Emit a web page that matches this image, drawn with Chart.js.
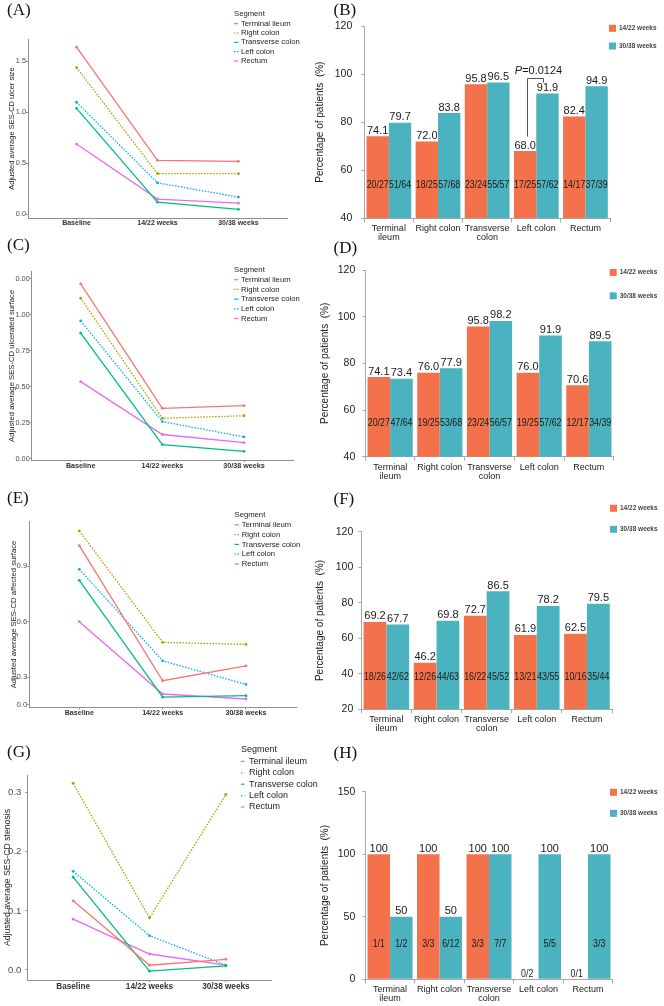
<!DOCTYPE html>
<html>
<head>
<meta charset="utf-8">
<script src="https://cdn.jsdelivr.net/npm/chart.js@4.4.1/dist/chart.umd.min.js"></script>
<style>
body { margin: 0; background: #fff; width: 664px; height: 1006px; position: relative; overflow: hidden; }
canvas { position: absolute; }
</style>
</head>
<body>
<canvas id="chartA"></canvas>
<canvas id="chartC"></canvas>
<canvas id="chartE"></canvas>
<canvas id="chartG"></canvas>
<canvas id="chartB"></canvas>
<canvas id="chartD"></canvas>
<canvas id="chartF"></canvas>
<canvas id="chartH"></canvas>
<script>
// ---- data ----
const timepoints = ['Baseline', '14/22 weeks', '30/38 weeks'];
const segments = ['Terminal ileum', 'Right colon', 'Transverse colon', 'Left colon', 'Rectum'];
const barTickLabels = [['Terminal', 'ileum'], 'Right colon', ['Transverse', 'colon'], 'Left colon', 'Rectum'];
const weekLabels = ['14/22 weeks', '30/38 weeks'];

// (A) ulcer size
const ulcerTI = [1.64, 0.53, 0.52];
const ulcerRC = [1.44, 0.40, 0.40];
const ulcerTC = [1.04, 0.12, 0.05];
const ulcerLC = [1.10, 0.31, 0.17];
const ulcerRE = [0.69, 0.15, 0.11];

// (C) ulcerated surface
const ulceratedTI = [1.215, 0.352, 0.37];
const ulceratedRC = [1.116, 0.283, 0.30];
const ulceratedTC = [0.873, 0.10, 0.053];
const ulceratedLC = [0.958, 0.26, 0.153];
const ulceratedRE = [0.537, 0.17, 0.113];

// (E) affected surface
const affectedTI = [1.012, 0.28, 0.361];
const affectedRC = [1.092, 0.488, 0.477];
const affectedTC = [0.824, 0.191, 0.199];
const affectedLC = [0.884, 0.388, 0.26];
const affectedRE = [0.60, 0.208, 0.181];

// (G) stenosis
const stenosisTI = [0.117, 0.008, 0.018];
const stenosisRC = [0.316, 0.088, 0.297];
const stenosisTC = [0.157, -0.002, 0.007];
const stenosisLC = [0.167, 0.058, 0.008];
const stenosisRE = [0.086, 0.027, 0.008];

// (B)
const ulcerWk14 = [74.1, 72.0, 95.8, 68.0, 82.4];
const ulcerWk30 = [79.7, 83.8, 96.5, 91.9, 94.9];
const ulcerN14 = ['20/27', '18/25', '23/24', '17/25', '14/17'];
const ulcerN30 = ['51/64', '57/68', '55/57', '57/62', '37/39'];
// (D)
const ulceratedWk14 = [74.1, 76.0, 95.8, 76.0, 70.6];
const ulceratedWk30 = [73.4, 77.9, 98.2, 91.9, 89.5];
const ulceratedN14 = ['20/27', '19/25', '23/24', '19/25', '12/17'];
const ulceratedN30 = ['47/64', '53/68', '56/57', '57/62', '34/39'];
// (F)
const affectedWk14 = [69.2, 46.2, 72.7, 61.9, 62.5];
const affectedWk30 = [67.7, 69.8, 86.5, 78.2, 79.5];
const affectedN14 = ['18/26', '12/26', '16/22', '13/21', '10/16'];
const affectedN30 = ['42/62', '44/63', '45/52', '43/55', '35/44'];
// (H)
const stenosisWk14 = [100, 100, 100, 0, 0];
const stenosisWk30 = [50, 50, 100, 100, 100];
const stenosisN14 = ['1/1', '3/3', '3/3', '0/2', '0/1'];
const stenosisN30 = ['1/2', '6/12', '7/7', '5/5', '3/3'];

// ---- styling ----
const FONT = '"Liberation Sans", Arial, sans-serif';
const segColors = ['#F8766D', '#A3A500', '#00BF7D', '#00B0F6', '#E76BF3'];
const segDotted = [false, true, false, true, false];
const barColors = ['#F4724B', '#4BB2C0'];

function place(id, box) {
    let c = document.getElementById(id);
    c.width = box.w;
    c.height = box.h;
    c.style.left = box.x + 'px';
    c.style.top = box.y + 'px';
    return c;
}

function padFor(box, area) {
    return { left: 0, top: area.t - box.y, right: box.x + box.w - area.r, bottom: 0 };
}

// bar value / count labels and the p-value bracket (canvas coordinates)
function drawBarLabels(chart, ctx, B) {
    let ys = chart.scales.y;
    chart.data.datasets.forEach((ds, i) => {
        let meta = chart.getDatasetMeta(i);
        meta.data.forEach((bar, j) => {
            let v = ds.data[j];
            ctx.fillStyle = '#1a1a1a';
            ctx.textAlign = 'center';
            if (v > 0) {
                ctx.font = '11px ' + FONT;
                ctx.textBaseline = 'bottom';
                ctx.fillText(v.toFixed(B.decimals), bar.x, bar.y);
            }
            let cy = v > 0 ? ys.getPixelForValue(B.countY) : ys.bottom - 5;
            ctx.save();
            ctx.translate(bar.x, cy);
            ctx.scale(0.84, 1);
            ctx.font = '10.5px ' + FONT;
            ctx.textBaseline = 'middle';
            ctx.fillText(ds.counts[j], 0, 0);
            ctx.restore();
        });
    });

    let P = B.pval;
    if (P) {
        let a = chart.getDatasetMeta(0).data[P.idx];
        let b = chart.getDatasetMeta(1).data[P.idx];
        let x1 = Math.round(a.x + 2) + 0.5, x2 = Math.round(b.x - 4) + 0.5;
        let top = Math.round(ys.getPixelForValue(P.top)) + 0.5;
        ctx.strokeStyle = '#555';
        ctx.lineWidth = 1;
        ctx.beginPath();
        ctx.moveTo(x1, ys.getPixelForValue(P.left));
        ctx.lineTo(x1, top);
        ctx.lineTo(x2, top);
        ctx.lineTo(x2, ys.getPixelForValue(P.right));
        ctx.stroke();
        ctx.fillStyle = '#1a1a1a';
        ctx.textAlign = 'left';
        ctx.textBaseline = 'middle';
        ctx.font = 'italic 11px ' + FONT;
        let pw = ctx.measureText('P').width;
        ctx.font = '11px ' + FONT;
        let tw = ctx.measureText(P.text).width;
        let tx = (x1 + x2) / 2 + 3 - (pw + tw) / 2;
        let ty = ys.getPixelForValue(P.textAt);
        ctx.font = 'italic 11px ' + FONT;
        ctx.fillText('P', tx, ty);
        ctx.font = '11px ' + FONT;
        ctx.fillText(P.text, tx + pw, ty);
    }
}

// draws panel letters, legends and bar labels
const decor = {
    id: 'decor',
    afterDraw(chart) {
        let o = chart.options.plugins.decor;
        let ctx = chart.ctx;
        ctx.save();
        if (o.bars) drawBarLabels(chart, ctx, o.bars);

        // the rest is placed in page coordinates
        ctx.translate(-o.box.x, -o.box.y);
        ctx.fillStyle = '#111';
        ctx.textAlign = 'left';
        ctx.textBaseline = 'alphabetic';
        ctx.font = '17px "Liberation Serif", "Times New Roman", serif';
        ctx.fillText(o.letter, o.letterX, o.letterY);

        if (o.seg) {
            let L = o.seg;
            ctx.font = L.size + 'px ' + FONT;
            ctx.fillStyle = '#222';
            ctx.textBaseline = 'middle';
            ctx.fillText('Segment', L.x, L.y);
            chart.data.datasets.forEach((ds, i) => {
                let y = L.y + L.step * (i + 1);
                ctx.strokeStyle = ds.borderColor;
                ctx.lineWidth = 1.2;
                ctx.setLineDash(ds.borderDash);
                ctx.beginPath();
                ctx.moveTo(L.x, y);
                ctx.lineTo(L.x + L.sw, y);
                ctx.stroke();
                ctx.setLineDash([]);
                ctx.fillStyle = '#222';
                ctx.fillText(ds.label, L.tx, y);
            });
        }

        if (o.bars) {
            let L = o.bars.legend;
            ctx.textAlign = 'left';
            ctx.textBaseline = 'middle';
            ctx.font = 'bold 6.5px ' + FONT;
            chart.data.datasets.forEach((ds, i) => {
                let y = L.y[i];
                ctx.fillStyle = ds.backgroundColor;
                ctx.fillRect(L.x, y - 3.5, 7, 7);
                ctx.fillStyle = '#444';
                ctx.fillText(ds.label, L.x + 10, y);
            });
        }
        ctx.restore();
    }
};

function makeLine(id, p) {
    let c = place(id, p.box);
    let axisColor = '#8f8f8f';
    return new Chart(c, {
        type: 'line',
        data: {
            datasets: p.series.map((vals, i) => ({
                label: segments[i],
                data: vals.map((v, j) => ({ x: j + 1, y: v })),
                borderColor: segColors[i],
                backgroundColor: segColors[i],
                borderWidth: 1.3,
                borderDash: segDotted[i] ? [1.5, 1.5] : [],
                pointRadius: 1.4,
                pointBorderWidth: 0,
                tension: 0
            }))
        },
        options: {
            responsive: false,
            animation: false,
            devicePixelRatio: 1,
            layout: { padding: padFor(p.box, p.area) },
            plugins: {
                legend: { display: false },
                tooltip: { enabled: false },
                decor: { box: p.box, letter: p.letter, letterX: p.letterX, letterY: p.letterY, seg: p.seg }
            },
            scales: {
                x: {
                    type: 'linear',
                    min: 0.4,
                    max: 3.6,
                    afterBuildTicks: s => { s.ticks = [1, 2, 3].map(v => ({ value: v })); },
                    afterFit: s => { s.height = p.box.y + p.box.h - p.area.b; },
                    ticks: {
                        callback: (v, i) => timepoints[i],
                        font: { size: p.xFont, weight: 'bold', family: FONT },
                        color: '#333',
                        padding: p.xPad,
                        maxRotation: 0,
                        autoSkip: false
                    },
                    grid: { display: true, drawOnChartArea: false, tickLength: 2, color: axisColor },
                    border: { color: axisColor, width: 1 }
                },
                y: {
                    type: 'linear',
                    min: p.yMin,
                    max: p.yMax,
                    afterBuildTicks: s => { s.ticks = p.yTicks.map(v => ({ value: v })); },
                    afterFit: s => { s.width = p.area.l - p.box.x; },
                    ticks: {
                        callback: (v, i) => p.yTickLabels[i],
                        font: { size: p.yFont, family: FONT },
                        color: '#4d4d4d',
                        padding: p.yPad,
                        autoSkip: false
                    },
                    grid: { display: true, drawOnChartArea: false, tickLength: 2, color: axisColor },
                    border: { color: axisColor, width: 1 },
                    title: {
                        display: true,
                        text: p.title,
                        color: '#222',
                        font: { size: p.titleFont, family: FONT },
                        padding: { top: p.titlePad, bottom: 0 }
                    }
                }
            }
        },
        plugins: [decor]
    });
}

function makeBar(id, p) {
    let c = place(id, p.box);
    let axisColor = '#a8a8a8';
    return new Chart(c, {
        type: 'bar',
        data: {
            labels: segments,
            datasets: [
                { label: weekLabels[0], data: p.wk14, counts: p.n14, backgroundColor: barColors[0] },
                { label: weekLabels[1], data: p.wk30, counts: p.n30, backgroundColor: barColors[1] }
            ]
        },
        options: {
            responsive: false,
            animation: false,
            devicePixelRatio: 1,
            layout: { padding: padFor(p.box, p.area) },
            datasets: { bar: { categoryPercentage: 0.91, barPercentage: 1.0, borderWidth: 0 } },
            plugins: {
                legend: { display: false },
                tooltip: { enabled: false },
                decor: {
                    box: p.box, letter: p.letter, letterX: p.letterX, letterY: p.letterY,
                    bars: { decimals: p.decimals, countY: p.countY, legend: p.legend, pval: p.pval }
                }
            },
            scales: {
                x: {
                    type: 'category',
                    afterFit: s => { s.height = p.box.y + p.box.h - p.area.b; },
                    grid: { display: true, offset: true, drawOnChartArea: false, tickLength: 4, color: axisColor },
                    border: { color: axisColor, width: 1 },
                    ticks: {
                        callback: (v, i) => barTickLabels[i],
                        font: { size: 9, family: FONT, lineHeight: 1.0 },
                        color: '#222',
                        padding: 2,
                        maxRotation: 0,
                        autoSkip: false
                    }
                },
                y: {
                    min: p.yMin,
                    max: p.yMax,
                    afterFit: s => { s.width = p.area.l - p.box.x; },
                    ticks: { stepSize: p.step, font: { size: 10.5, family: FONT }, color: '#222', padding: p.yPad },
                    grid: { display: true, drawOnChartArea: false, tickLength: 3, color: axisColor },
                    border: { color: axisColor, width: 1 },
                    title: {
                        display: true,
                        text: 'Percentage of patients  (%)',
                        color: '#222',
                        font: { size: 10, family: FONT },
                        padding: { top: p.titlePad, bottom: 0 }
                    }
                }
            }
        },
        plugins: [decor]
    });
}

// ---- line panels ----
makeLine('chartA', {
    box: { x: 0, y: 0, w: 312, h: 232 }, area: { l: 28, t: 39, r: 287, b: 218 },
    series: [ulcerTI, ulcerRC, ulcerTC, ulcerLC, ulcerRE],
    yMin: -0.035, yMax: 1.72, yTicks: [0, 0.5, 1.0, 1.5], yTickLabels: ['0.0', '0.5', '1.0', '1.5'],
    title: 'Adjusted average SES-CD ulcer size', titleFont: 7.5, titlePad: 7,
    xFont: 7, xPad: -1, yFont: 7.3, yPad: 0,
    letter: '(A)', letterX: 7, letterY: 15,
    seg: { x: 234, y: 14.3, step: 9.35, sw: 4.5, tx: 241, size: 7.7 }
});

makeLine('chartC', {
    box: { x: 0, y: 232, w: 312, h: 256 }, area: { l: 31.7, t: 271.7, r: 293, b: 460 },
    series: [ulceratedTI, ulceratedRC, ulceratedTC, ulceratedLC, ulceratedRE],
    yMin: -0.007, yMax: 1.30, yTicks: [0, 0.25, 0.5, 0.75, 1.0, 1.25],
    yTickLabels: ['0.00', '0.25', '0.50', '0.75', '1.00', '0.00'],
    title: 'Adjusted average SES-CD ulcerated surface', titleFont: 7.7, titlePad: 7,
    xFont: 7.2, xPad: 0, yFont: 7.3, yPad: 0,
    letter: '(C)', letterX: 7, letterY: 250,
    seg: { x: 234, y: 270, step: 9.7, sw: 4.5, tx: 241, size: 7.7 }
});

makeLine('chartE', {
    box: { x: 0, y: 488, w: 312, h: 252 }, area: { l: 29.3, t: 521.7, r: 296, b: 707.3 },
    series: [affectedTI, affectedRC, affectedTC, affectedLC, affectedRE],
    yMin: 0.136, yMax: 1.142, yTicks: [0.15, 0.3, 0.6, 0.9], yTickLabels: ['0.0', '0.3', '0.6', '0.9'],
    title: 'Adjusted average SES-CD affected surface', titleFont: 7.7, titlePad: 9,
    xFont: 7.1, xPad: -1, yFont: 7.8, yPad: 0,
    letter: '(E)', letterX: 7, letterY: 503,
    seg: { x: 234.5, y: 515, step: 9.8, sw: 4.5, tx: 241.7, size: 7.7 }
});

makeLine('chartG', {
    box: { x: 0, y: 740, w: 332, h: 266 }, area: { l: 27.3, t: 775, r: 271.7, b: 980 },
    series: [stenosisTI, stenosisRC, stenosisTC, stenosisLC, stenosisRE],
    yMin: -0.017, yMax: 0.33, yTicks: [0, 0.1, 0.2, 0.3], yTickLabels: ['0.0', '0.1', '0.2', '0.3'],
    title: 'Adjusted average SES-CD stenosis', titleFont: 8.7, titlePad: 2,
    xFont: 8.2, xPad: 0, yFont: 9.5, yPad: 4,
    letter: '(G)', letterX: 7, letterY: 757,
    seg: { x: 241, y: 750, step: 11.4, sw: 3.5, tx: 249, size: 9 }
});

// ---- bar panels ----
makeBar('chartB', {
    box: { x: 312, y: 0, w: 352, h: 240 }, area: { l: 364.3, t: 26, r: 610, b: 218.3 },
    wk14: ulcerWk14, wk30: ulcerWk30, n14: ulcerN14, n30: ulcerN30,
    yMin: 40, yMax: 120, step: 20, yPad: 9, titlePad: 2, decimals: 1, countY: 54,
    letter: '(B)', letterX: 333.5, letterY: 15,
    legend: { x: 609, y: [28.3, 46] },
    pval: { idx: 3, top: 98.5, left: 74, right: 96.4, textAt: 101.5, text: '=0.0124' }
});

makeBar('chartD', {
    box: { x: 312, y: 240, w: 352, h: 250 }, area: { l: 365.3, t: 270, r: 613.7, b: 456.7 },
    wk14: ulceratedWk14, wk30: ulceratedWk30, n14: ulceratedN14, n30: ulceratedN30,
    yMin: 40, yMax: 120, step: 20, yPad: 7, titlePad: 7, decimals: 1, countY: 54.4,
    letter: '(D)', letterX: 333.5, letterY: 253,
    legend: { x: 609.7, y: [272.5, 295.8] }
});

makeBar('chartF', {
    box: { x: 312, y: 490, w: 352, h: 248 }, area: { l: 361.3, t: 531.7, r: 612, b: 709.3 },
    wk14: affectedWk14, wk30: affectedWk30, n14: affectedN14, n30: affectedN30,
    yMin: 20, yMax: 120, step: 20, yPad: 5, titlePad: 2, decimals: 1, countY: 38,
    letter: '(F)', letterX: 333.5, letterY: 504,
    legend: { x: 610, y: [508.3, 529.3] }
});

makeBar('chartH', {
    box: { x: 312, y: 738, w: 352, h: 268 }, area: { l: 365.3, t: 791.7, r: 612.7, b: 979.3 },
    wk14: stenosisWk14, wk30: stenosisWk30, n14: stenosisN14, n30: stenosisN30,
    yMin: 0, yMax: 150, step: 50, yPad: 7, titlePad: 7, decimals: 0, countY: 28,
    letter: '(H)', letterX: 333.5, letterY: 758,
    legend: { x: 610, y: [792.3, 813.3] }
});
</script>
</body>
</html>
